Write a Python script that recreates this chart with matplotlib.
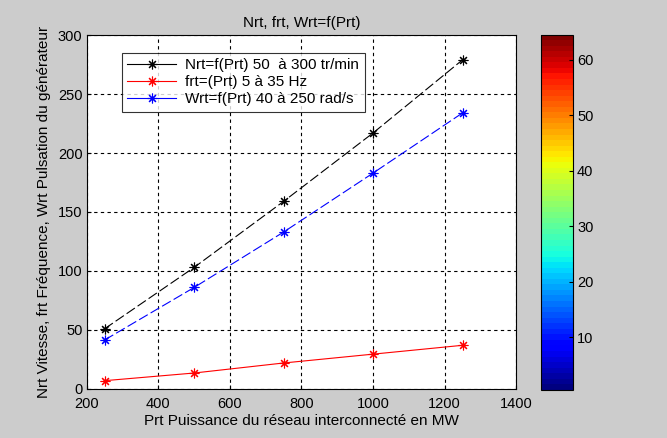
import matplotlib
matplotlib.use("Agg")
import matplotlib.pyplot as plt
from matplotlib.lines import Line2D
from matplotlib.colors import Normalize
from matplotlib.cm import ScalarMappable

plt.rcParams["font.family"] = ["Liberation Sans", "DejaVu Sans"]

# data
prt = [250, 500, 750, 1000, 1250]
nrt = [51, 103, 159, 217, 279]
frt = [7, 13.5, 22, 29.5, 37]
wrt = [41.5, 86, 133, 183, 234]
labels = ["Nrt=f(Prt) 50  à 300 tr/min", "frt=(Prt) 5 à 35 Hz", "Wrt=f(Prt) 40 à 250 rad/s"]
xticks = [200, 400, 600, 800, 1000, 1200, 1400]
yticks = [0, 50, 100, 150, 200, 250, 300]
cbar_ticks = [10, 20, 30, 40, 50, 60]

BG = "#cccccc"
STAR = (8, 2, 0)  # matlab-style asterisk
fig = plt.figure(figsize=(6.67, 4.38), dpi=100)
fig.patch.set_facecolor(BG)
ax = fig.add_axes([0.130, 0.112, 0.644, 0.808])

kw = dict(marker=STAR, ms=7, mew=0.8, lw=0.8)
ax.plot(prt, nrt, color="black", dashes=(9, 3), **kw)
ax.plot(prt, frt, color="red", **kw)
ax.plot(prt, wrt, color="blue", dashes=(9, 3), **kw)

ax.set_xlim(200, 1400)
ax.set_ylim(0, 300)
ax.set_xticks(xticks)
ax.set_yticks(yticks)
ax.grid(True, color="black", linestyle=(0, (3, 3)), linewidth=0.8)
ax.tick_params(direction="in", labelsize=10.5, length=3, pad=3)
ax.tick_params(axis="x", pad=6)
for s in ax.spines.values():
    s.set_linewidth(0.8)

ax.set_title("Nrt, frt, Wrt=f(Prt)", fontsize=11, pad=6)
ax.set_xlabel("Prt Puissance du réseau interconnecté en MW", fontsize=11, labelpad=2)
ax.set_ylabel("Nrt Vitesse, frt Fréquence, Wrt Pulsation du générateur", fontsize=11, labelpad=5)

handles = [Line2D([], [], color=c, **kw) for c in ["black", "red", "blue"]]
leg = ax.legend(handles, labels, loc="upper left", bbox_to_anchor=(0.082, 0.95),
                borderaxespad=0, fontsize=11, frameon=True, fancybox=False, edgecolor="black",
                borderpad=0.35, labelspacing=0.2, handlelength=3.2, handletextpad=0.6)
leg.get_frame().set_linewidth(0.8)

cax = fig.add_axes([0.811, 0.110, 0.048, 0.811])
cb = fig.colorbar(ScalarMappable(norm=Normalize(0.5, 64.5), cmap=plt.get_cmap("jet", 64)), cax=cax)
cb.set_ticks(cbar_ticks)
cb.ax.tick_params(direction="in", labelsize=10.5, length=3, pad=3)
cb.outline.set_linewidth(0.8)

fig.savefig("out.png", dpi=100, facecolor=BG)
